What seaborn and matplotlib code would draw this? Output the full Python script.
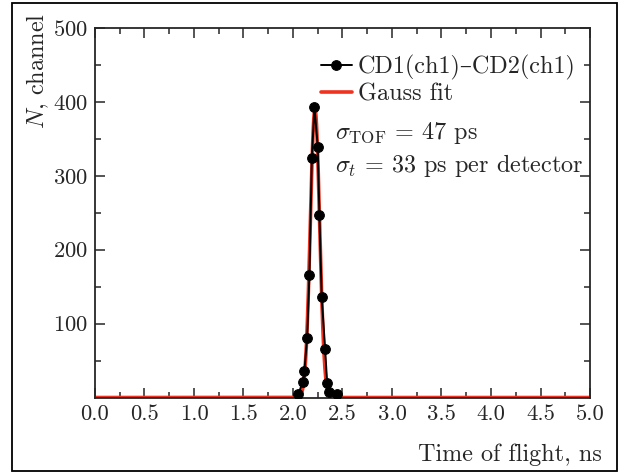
import numpy as np
import pandas as pd
import seaborn as sns
import matplotlib.pyplot as plt
from matplotlib.patches import Rectangle
from matplotlib.ticker import MultipleLocator, FixedLocator

# Measured time-of-flight histogram (CD1 ch1 minus CD2 ch1)
tof_ns = [2.055, 2.098, 2.115, 2.143, 2.166, 2.190, 2.217, 2.250, 2.267, 2.290, 2.325, 2.345, 2.360, 2.440]
counts = [5, 21, 36, 81, 166, 324, 393, 339, 247, 136, 65, 19, 8, 5]

# Gaussian fit parameters
fit_amp = 390.0
fit_mean_ns = 2.222
fit_sigma_ns = 0.047

x_ticks = [0.0, 0.5, 1.0, 1.5, 2.0, 2.5, 3.0, 3.5, 4.0, 4.5, 5.0]
y_ticks = [100, 200, 300, 400, 500]

FS = 17.4
TICK_FS = 16.3

sns.set_style("ticks")
plt.rcParams["font.family"] = ["cmr10", "DejaVu Serif"]
plt.rcParams["mathtext.fontset"] = "cm"
plt.rcParams["axes.formatter.use_mathtext"] = True
plt.rcParams["axes.unicode_minus"] = False

fig = plt.figure(figsize=(6.18, 4.72), dpi=100)
ax = fig.add_axes([0.1537, 0.1578, 0.8010, 0.7829])

t_fit = np.linspace(0, 5, 2001)
fit_df = pd.DataFrame({
    "t": t_fit,
    "n": fit_amp * np.exp(-0.5 * ((t_fit - fit_mean_ns) / fit_sigma_ns) ** 2),
})
data_df = pd.DataFrame({"t": tof_ns, "n": counts})

sns.lineplot(data=fit_df, x="t", y="n", ax=ax, color="#f0321e", lw=2.6,
             label="Gauss fit", zorder=2)
sns.lineplot(data=data_df, x="t", y="n", ax=ax, color="black", lw=1.4,
             marker="o", markersize=7, markeredgecolor="black",
             label="CD1(ch1)–CD2(ch1)", zorder=3, sort=False)

ax.set_xlim(0, 5)
ax.set_ylim(0, 500)
ax.set_xticks(x_ticks)
ax.set_xticklabels([f"{v:.1f}" for v in x_ticks])
ax.set_yticks(y_ticks)
ax.xaxis.set_minor_locator(MultipleLocator(0.25))
ax.yaxis.set_minor_locator(FixedLocator([50, 150, 250, 350, 450]))
ax.tick_params(which="both", direction="in", top=True, right=True,
               labelsize=TICK_FS, width=1.1, pad=5)
ax.tick_params(which="major", length=7)
ax.tick_params(which="minor", length=4)
for s in ax.spines.values():
    s.set_linewidth(1.3)

ax.set_xlabel("Time of flight, ns", fontsize=FS, ha="right", va="center")
ax.xaxis.set_label_coords(1.024, -0.156)
ax.set_ylabel("$N$, channel", fontsize=FS, ha="right", va="center")
ax.yaxis.set_label_coords(-0.115, 1.04)

handles, labels = ax.get_legend_handles_labels()
ax.legend(handles[::-1], labels[::-1], loc="upper right",
          bbox_to_anchor=(1.0, 0.967), frameon=False, fontsize=FS,
          handlelength=1.25, handletextpad=0.25, labelspacing=0.15,
          borderaxespad=0.2)

ax.text(0.484, 0.716, r"$\sigma_{\mathrm{TOF}}$ = 47 ps", transform=ax.transAxes,
        fontsize=FS, va="center", ha="left")
ax.text(0.484, 0.629, r"$\sigma_t$ = 33 ps per detector", transform=ax.transAxes,
        fontsize=FS, va="center", ha="left")

fig.patches.append(Rectangle((12 / 618, 1 / 472), 1 - 13 / 618, 1 - 4 / 472,
                             transform=fig.transFigure, fill=False,
                             edgecolor="black", lw=1.3))

fig.savefig("out.png", dpi=100)
